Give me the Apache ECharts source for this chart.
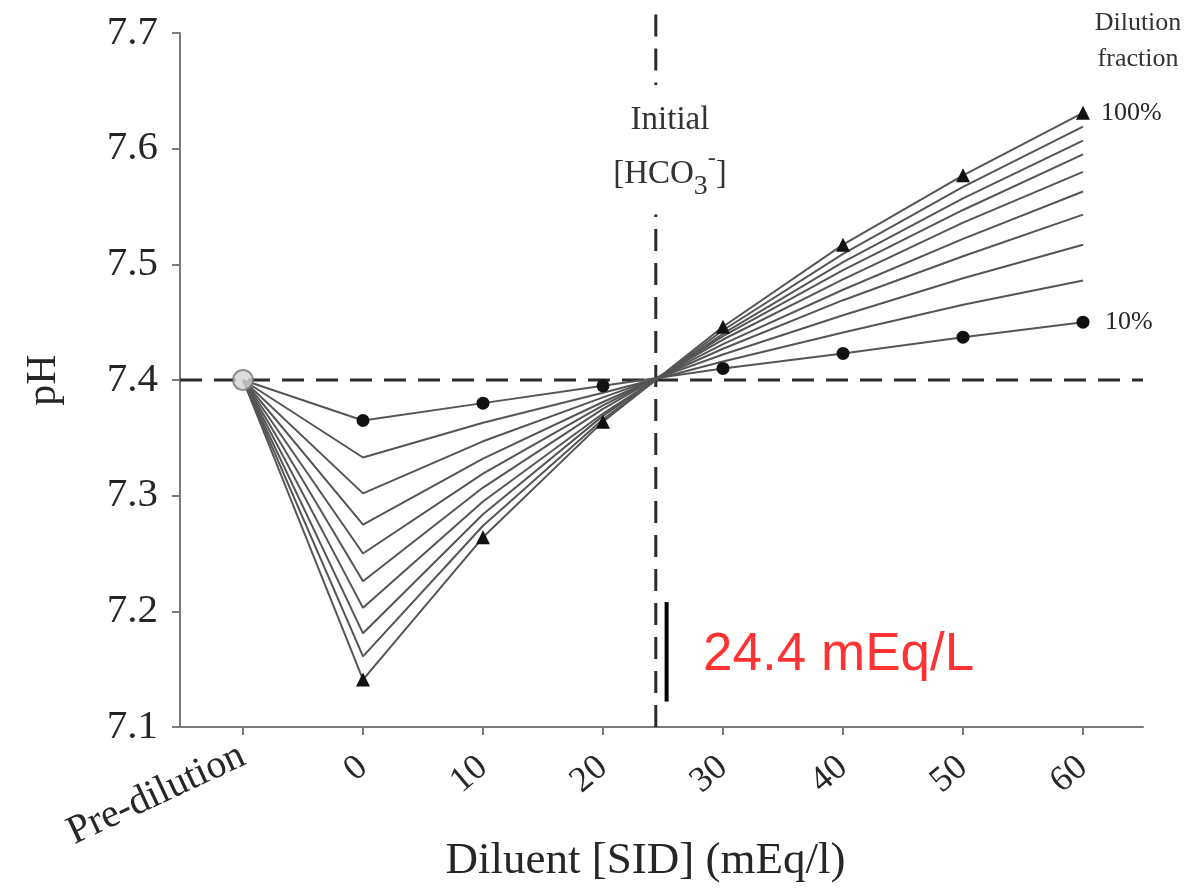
<!DOCTYPE html>
<html>
<head>
<meta charset="utf-8">
<script src="https://cdn.jsdelivr.net/npm/echarts@6/dist/echarts.min.js"></script>
<style>
  html, body { margin: 0; padding: 0; background: #fff; }
  #chart { width: 1184px; height: 890px; }
</style>
</head>
<body>
<div id="chart"></div>
<script>
// Diluent strong ion difference (mEq/l) at which pH was computed
const sidValues = [0, 10, 20, 30, 40, 50, 60];
// Pre-dilution state, plotted left of the SID axis
const preDilutionX = -10;
const preDilutionPH = 7.4;
// Initial plasma bicarbonate (mEq/l)
const initialHCO3 = 24.4;

// pH after dilution, one list per dilution fraction
const ph10  = [7.365, 7.380, 7.395, 7.410, 7.423, 7.437, 7.450];
const ph20  = [7.333, 7.363, 7.389, 7.416, 7.441, 7.465, 7.486];
const ph30  = [7.302, 7.347, 7.385, 7.422, 7.456, 7.488, 7.517];
const ph40  = [7.275, 7.332, 7.381, 7.427, 7.469, 7.507, 7.543];
const ph50  = [7.250, 7.319, 7.378, 7.431, 7.478, 7.522, 7.563];
const ph60  = [7.226, 7.307, 7.375, 7.435, 7.487, 7.536, 7.580];
const ph70  = [7.203, 7.295, 7.371, 7.438, 7.495, 7.547, 7.595];
const ph80  = [7.181, 7.284, 7.369, 7.440, 7.502, 7.557, 7.607];
const ph90  = [7.161, 7.274, 7.366, 7.443, 7.509, 7.567, 7.619];
const ph100 = [7.141, 7.264, 7.364, 7.446, 7.517, 7.577, 7.631];

const fractionNames = ['10%', '20%', '30%', '40%', '50%', '60%', '70%', '80%', '90%', '100%'];
const fractionSeries = [ph10, ph20, ph30, ph40, ph50, ph60, ph70, ph80, ph90, ph100];

// Axis ticks and labels
const xTickValues = [-10, 0, 10, 20, 30, 40, 50, 60];
const xNumberTicks = [0, 10, 20, 30, 40, 50, 60];
const preDilutionLabel = 'Pre-dilution';

const SERIF = '"Liberation Serif", "DejaVu Serif", serif';
const LINE_GREY = '#555';
const DASH_COLOR = '#2b2b2b';
const TEXT = '#262626';

function fractionLine(name, values) {
  const first = name === '10%';
  const last = name === '100%';
  const data = [[preDilutionX, preDilutionPH]].concat(values.map((v, i) => [sidValues[i], v]));
  const s = {
    name: name,
    type: 'line',
    data: data,
    z: 3,
    silent: true,
    lineStyle: { color: LINE_GREY, width: 2 },
    itemStyle: { color: '#111' },
    symbol: 'none',
    animation: false
  };
  if (first || last) {
    s.symbol = (v) => (v[0] < 0 ? 'none' : (first ? 'circle' : 'triangle'));
    s.symbolSize = first ? 13 : 14;
    s.endLabel = {
      show: true,
      formatter: name,
      fontFamily: SERIF,
      fontSize: 26,
      color: TEXT,
      distance: first ? 22 : 18
    };
  }
  return s;
}

const series = [];

// Reference line at the pre-dilution pH
series.push({
  type: 'line',
  data: [[-15.25, preDilutionPH], [65, preDilutionPH]],
  symbol: 'none',
  z: 1,
  silent: true,
  lineStyle: { color: DASH_COLOR, width: 3, type: [22, 12] },
  animation: false
});

// Reference line at the initial bicarbonate, broken around its caption
series.push({
  type: 'line',
  data: [[initialHCO3, 7.1], [initialHCO3, 7.543]],
  symbol: 'none',
  z: 1,
  clip: false,
  silent: true,
  lineStyle: { color: DASH_COLOR, width: 3, type: [22, 12] },
  animation: false
});
series.push({
  type: 'line',
  data: [[initialHCO3, 7.716], [initialHCO3, 7.655]],
  symbol: 'none',
  z: 1,
  clip: false,
  silent: true,
  lineStyle: { color: DASH_COLOR, width: 3, type: [22, 12] },
  animation: false
});

fractionNames.forEach((n, i) => series.push(fractionLine(n, fractionSeries[i])));

// Pre-dilution point
series.push({
  type: 'scatter',
  data: [[preDilutionX, preDilutionPH]],
  symbol: 'circle',
  symbolSize: 20,
  z: 5,
  silent: true,
  itemStyle: { color: '#d4d4d4', borderColor: '#777', borderWidth: 2 },
  animation: false
});

// Annotation marker for the initial bicarbonate value
series.push({
  type: 'line',
  data: [[initialHCO3 + 0.9, 7.208], [initialHCO3 + 0.9, 7.122]],
  symbol: 'none',
  z: 4,
  clip: false,
  silent: true,
  lineStyle: { color: '#000', width: 4 },
  animation: false
});
series.push({
  type: 'scatter',
  data: [[initialHCO3 + 0.9, 7.162]],
  symbolSize: 1,
  itemStyle: { color: 'rgba(0,0,0,0)' },
  z: 4,
  silent: true,
  label: {
    show: true,
    position: 'right',
    distance: 36,
    formatter: initialHCO3.toFixed(1) + ' mEq/L',
    fontFamily: '"Liberation Sans", Arial, sans-serif',
    fontSize: 53,
    color: '#ff0000'
  },
  animation: false
});

const axisLineStyle = { color: '#7a7a7a', width: 2 };

const option = {
  backgroundColor: '#fff',
  animation: false,
  title: [
    {
      text: 'Dilution\nfraction',
      left: 1133,
      top: 0,
      textAlign: 'center',
      textStyle: { fontFamily: SERIF, fontSize: 26, lineHeight: 36, color: '#333', fontWeight: 'normal' }
    },
    {
      text: 'Initial\n[HCO{sub|3}{sup|-}]',
      left: 665,
      top: 88,
      textAlign: 'center',
      textStyle: {
        fontFamily: SERIF, fontSize: 33, lineHeight: 54, color: '#333', fontWeight: 'normal',
        rich: {
          sub: { fontFamily: SERIF, fontSize: 28, color: '#333', verticalAlign: 'bottom', padding: [16, 0, 0, 0] },
          sup: { fontFamily: SERIF, fontSize: 24, color: '#333', verticalAlign: 'top', padding: [0, 0, 16, 0] }
        }
      }
    }
  ],
  grid: { left: 180, right: 41, top: 33, bottom: 163, containLabel: false, outerBoundsMode: 'none' },
  xAxis: [
    {
      type: 'value',
      min: -15.25,
      max: 65,
      position: 'bottom',
      name: 'Diluent [SID] (mEq/l)',
      nameLocation: 'middle',
      nameGap: 112,
      nameTextStyle: { fontFamily: SERIF, fontSize: 45, color: TEXT, padding: [0, 32, 0, 0] },
      axisLine: { show: true, onZero: false, lineStyle: axisLineStyle },
      axisTick: { show: true, customValues: xTickValues, length: 8, lineStyle: axisLineStyle },
      axisLabel: {
        customValues: xNumberTicks,
        formatter: (v) => String(v),
        rotate: 40,
        margin: 36,
        fontFamily: SERIF,
        fontSize: 36,
        color: TEXT
      },
      splitLine: { show: false }
    },
    {
      // Separate axis carrying only the pre-dilution caption at its own angle
      type: 'value',
      min: -15.25,
      max: 65,
      position: 'bottom',
      offset: 0,
      axisLine: { show: false, onZero: false },
      axisTick: { show: false },
      axisLabel: {
        customValues: [preDilutionX],
        formatter: () => preDilutionLabel,
        rotate: 25,
        margin: 27,
        fontFamily: SERIF,
        fontSize: 40,
        color: TEXT
      },
      splitLine: { show: false }
    }
  ],
  yAxis: {
    type: 'value',
    min: 7.1,
    max: 7.7,
    interval: 0.1,
    name: 'pH',
    nameLocation: 'middle',
    nameGap: 115,
    nameRotate: 90,
    nameTextStyle: { fontFamily: SERIF, fontSize: 42, color: TEXT },
    axisLine: { show: true, onZero: false, lineStyle: axisLineStyle },
    axisTick: { show: true, length: 8, lineStyle: axisLineStyle },
    axisLabel: {
      formatter: (v) => v.toFixed(1),
      margin: 22,
      fontFamily: SERIF,
      fontSize: 41,
      color: TEXT
    },
    splitLine: { show: false }
  },
  series: series
};

const chart = echarts.init(document.getElementById('chart'), null, { renderer: 'canvas' });
chart.setOption(option);
</script>
</body>
</html>
